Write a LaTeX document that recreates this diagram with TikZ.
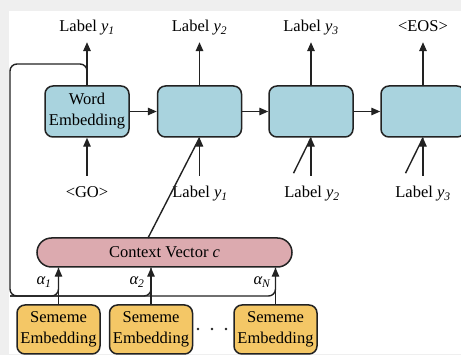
\documentclass[tikz,border=0pt]{standalone}
\usepackage{fontspec}
\setmainfont{Liberation Serif}
\usetikzlibrary{arrows.meta,calc}
\definecolor{bgray}{HTML}{EFEFEF}
\definecolor{cellblue}{HTML}{A9D3DE}
\definecolor{ctxpink}{HTML}{DCAAAF}
\definecolor{semorange}{HTML}{F4C766}
\definecolor{edge}{HTML}{222222}
\tikzset{
  every node/.style={font=\fontsize{16.5}{21}\selectfont},
  line/.style={draw=edge, line width=1.4pt},
  arr/.style={line, -{Triangle[length=9pt,width=7.5pt]}},
  cell/.style={draw=edge, line width=1.5pt, fill=cellblue, rounded corners=8pt,
    minimum width=84pt, minimum height=51pt, inner sep=0pt, align=center},
  sememe/.style={draw=edge, line width=1.5pt, fill=semorange, rounded corners=8pt,
    minimum width=83pt, minimum height=49pt, inner sep=0pt, align=center},
  toplab/.style={inner sep=0pt, anchor=base, text depth=10.5pt},
  botlab/.style={inner sep=0pt, anchor=base, text height=22pt},
  alab/.style={inner sep=0pt, font=\fontsize{16.5}{21}\selectfont\itshape}
}
\begin{document}
\begin{tikzpicture}[x=1pt,y=-1pt]
\useasboundingbox (0,0) rectangle (461,355);
\fill[bgray] (0,0) rectangle (461,355);
\fill[white] (9,11) rectangle (461,354);
\clip (0,0) rectangle (461,355);

% decoder cells
\node[cell] (b1) at (87,111.5) {Word\\Embedding};
\node[cell] (b2) at (199.5,111.5) {};
\node[cell] (b3) at (311,111.5) {};
\node[cell] (b4) at (423,111.5) {};

% output labels
\node[toplab] (t1) at (87,31.5) {Label \textit{y}\textsubscript{\textit{1}}};
\node[toplab] (t2) at (199.5,31.5) {Label \textit{y}\textsubscript{\textit{2}}};
\node[toplab] (t3) at (311,31.5) {Label \textit{y}\textsubscript{\textit{3}}};
\node[toplab] (t4) at (423,31.5) {<EOS>};

% input labels
\node[botlab] (g1) at (87,198) {<GO>};
\node[botlab] (g2) at (200,198) {Label \textit{y}\textsubscript{\textit{1}}};
\node[botlab] (g3) at (312,198) {Label \textit{y}\textsubscript{\textit{2}}};
\node[botlab] (g4) at (423,198) {Label \textit{y}\textsubscript{\textit{3}}};

% context vector
\node[draw=edge, line width=1.5pt, fill=ctxpink, rounded corners=14.5pt,
  minimum width=255pt, minimum height=29pt, inner sep=0pt] (cv) at (164.5,252.5)
  {Context Vector \textit{c}};

% sememe embeddings
\node[sememe] (s1) at (58.5,329.5) {Sememe\\Embedding};
\node[sememe] (s2) at (151,329.5) {Sememe\\Embedding};
\node[sememe] (s3) at (275.5,329.5) {Sememe\\Embedding};
\fill[edge] (198,329) circle (1.4pt) (212,329) circle (1.4pt) (226,329) circle (1.4pt);

% attention weights
\node[alab] (a1) at (44,282) {α\textsubscript{1}};
\node[alab] (a2) at (137,282) {α\textsubscript{2}};
\node[alab] (a3) at (262,282) {α\textsubscript{\itshape N}};

% loop line
\coordinate (lt) at (10,64);
\coordinate (lb) at (10,296);
\draw[line, rounded corners=7pt] (b1.north) -- (b1.north |- lt) -- (lt) -- (lb)
  -- (s3.north |- lb) -- (s3.north |- cv.south);
\draw[line, rounded corners=7pt] (lb) -- (s1.north |- lb) -- (s1.north |- cv.south);
\draw[line, rounded corners=7pt] (lb) -- (s2.north |- lb) -- (s2.north |- cv.south);

% arrows: sememes to context
\draw[arr] (s1.north) -- (s1.north |- cv.south);
\draw[arr] (s2.north) -- (s2.north |- cv.south);
\draw[arr] (s3.north) -- (s3.north |- cv.south);

% horizontal cell arrows
\draw[arr] (b1.east) -- (b2.west);
\draw[arr] (b2.east) -- (b3.west);
\draw[arr] (b3.east) -- (b4.west);

% output arrows
\draw[arr] (b1.north) -- (t1.south);
\draw[arr] (b2.north) -- (t2.south);
\draw[arr] (b3.north) -- (t3.south);
\draw[arr] (b4.north) -- (t4.south);

% input arrows
\draw[arr] (g1.north -| b1.south) -- (b1.south);
\draw[arr] (g2.north -| b2.south) -- (b2.south);
\draw[arr] (g3.north -| b3.south) -- (b3.south);
\draw[arr] (g4.north -| b4.south) -- (b4.south);

% context vector to cells
\coordinate (cvout) at (148,238);
\draw[line] (cvout) -- (b2.south);
\coordinate (c3) at ($(b3.south)+(-17.5,35.5)$);
\coordinate (c4) at ($(b4.south)+(-17.5,35.5)$);
\draw[line] (c3) -- (b3.south);
\draw[line] (c4) -- (b4.south);
\end{tikzpicture}
\end{document}
